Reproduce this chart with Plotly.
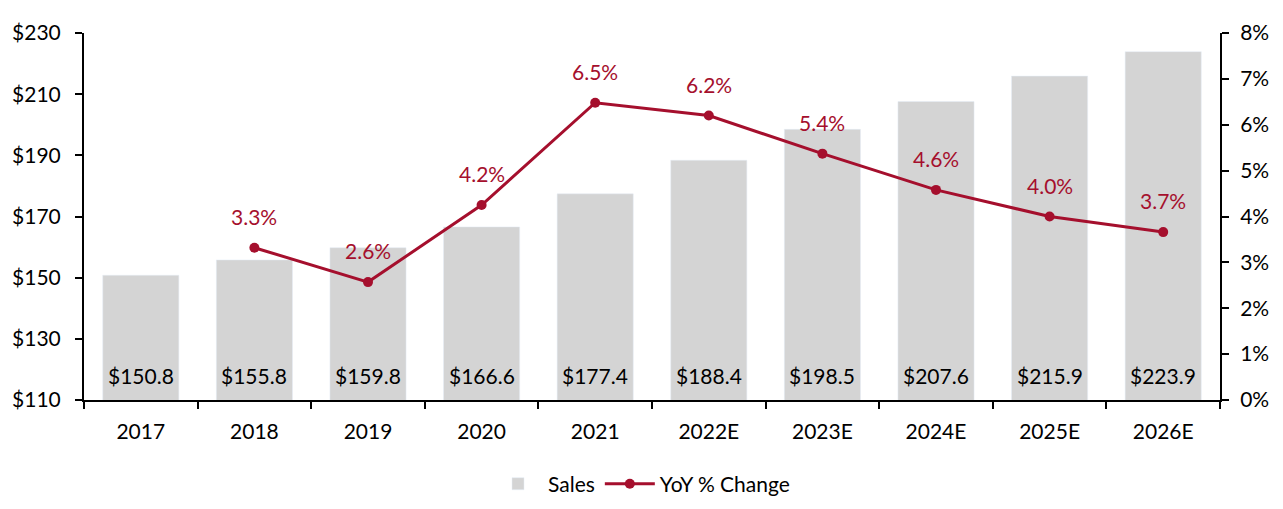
import plotly.graph_objects as go

years = ["2017", "2018", "2019", "2020", "2021", "2022E", "2023E", "2024E", "2025E", "2026E"]
sales = [150.8, 155.8, 159.8, 166.6, 177.4, 188.4, 198.5, 207.6, 215.9, 223.9]
yoy = [None, 3.32, 2.57, 4.25, 6.48, 6.2, 5.37, 4.58, 4.0, 3.66]
yoy_labels = ["", "3.3%", "2.6%", "4.2%", "6.5%", "6.2%", "5.4%", "4.6%", "4.0%", "3.7%"]

FONT = "Lato, 'Open Sans', sans-serif"
RED = "#a50f2d"
GREY = "#d4d4d4"
FS = 21

fig = go.Figure()
fig.add_trace(go.Bar(
    x=years, y=sales, name="Sales", marker_color=GREY,
))
fig.add_trace(go.Scatter(
    x=years, y=yoy, name="YoY % Change", yaxis="y2", mode="lines+markers",
    line=dict(color=RED, width=3), marker=dict(color=RED, size=10),
))

annotations = []
for i, v in enumerate(sales):
    annotations.append(dict(x=i, y=110, xref="x", yref="y", text=f"${v:.1f}",
                            showarrow=False, yanchor="bottom", yshift=10,
                            font=dict(size=FS, color="black", family=FONT)))
for i, (v, lab) in enumerate(zip(yoy, yoy_labels)):
    if v is None:
        continue
    annotations.append(dict(x=i, y=v, xref="x", yref="y2", text=lab,
                            showarrow=False, yanchor="bottom", yshift=17,
                            font=dict(size=FS, color=RED, family=FONT)))

fig.update_layout(
    width=1283, height=509,
    margin=dict(l=81, r=63, t=33, b=109),
    plot_bgcolor="white", paper_bgcolor="white",
    font=dict(family=FONT, size=FS, color="black"),
    bargap=0.33,
    annotations=annotations,
    xaxis=dict(type="category", range=[-0.5, 9.5], showline=True, linecolor="black",
               linewidth=2, ticks="outside", tickson="boundaries", ticklen=7,
               tickcolor="black", tickwidth=2, tickfont=dict(size=FS), showgrid=False,
               ticklabelstandoff=12),
    yaxis=dict(range=[110, 230], tick0=110, dtick=20, tickprefix="$", showline=True,
               linecolor="black", linewidth=2, ticks="outside", ticklen=7,
               tickcolor="black", tickwidth=2, showgrid=False, zeroline=False,
               tickfont=dict(size=FS), ticklabelstandoff=10),
    yaxis2=dict(range=[0, 8], dtick=1, ticksuffix="%", overlaying="y", side="right",
                showline=True, linecolor="black", linewidth=2, ticks="outside",
                ticklen=7, tickcolor="black", tickwidth=2, showgrid=False,
                zeroline=False, tickfont=dict(size=FS), ticklabelstandoff=7),
    legend=dict(orientation="h", x=0.5, xanchor="center", xref="container",
                y=0.049, yanchor="middle", yref="container",
                font=dict(size=FS), traceorder="normal", itemwidth=50),
    showlegend=True,
)

fig.write_html("out.html")
